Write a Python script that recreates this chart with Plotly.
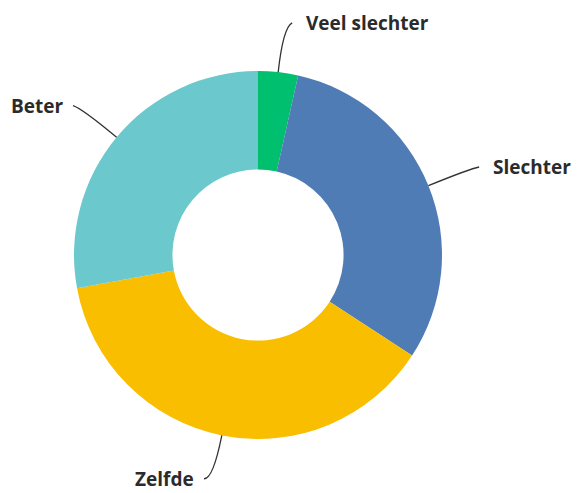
import math
import plotly.graph_objects as go

# Antwoorden (percentages)
labels = ['Veel slechter', 'Slechter', 'Zelfde', 'Beter']
waarden = [3.5, 30.7, 37.9, 27.9]
kleuren = ['#00BF6F', '#507CB6', '#F9BE00', '#6BC8CD']

# de pagina zet de grafiek 8px naar rechts/onder (body-marge),
# daarom iets kleiner zodat alles in het venster past
W, H = 571, 485
cx, cy, r = 250, 247, 184   # middelpunt en straal van de ring (pixels)
uitloop = 45                # lengte van de lijn buiten de ring
haak = 9                    # horizontaal stukje aan het eind
fs = 19                     # lettergrootte labels

fig = go.Figure(go.Pie(
    labels=labels,
    values=waarden,
    hole=0.465,
    sort=False,
    direction='clockwise',
    rotation=0,
    marker=dict(colors=kleuren, line=dict(width=0)),
    textinfo='none',
    hoverinfo='label+percent',
    domain=dict(x=[(cx - r) / W, (cx + r) / W],
                y=[1 - (cy + r) / H, 1 - (cy - r) / H]),
    showlegend=False,
))


def px(x, y):
    return x / W, 1 - y / H


# Labels met gebogen lijntjes, berekend uit de hoek van elk segment
totaal = sum(waarden)
start = 0
for naam, v in zip(labels, waarden):
    mid = math.radians((start + v / 2) / totaal * 360)
    start += v
    ux, uy = math.sin(mid), -math.cos(mid)
    p0 = (cx + r * ux, cy + r * uy)
    elleboog = (cx + (r + uitloop) * ux, cy + (r + uitloop) * uy)
    kant = 1 if ux >= 0 else -1
    eind = (elleboog[0] + kant * haak, min(elleboog[1] + 4.5 * uy, H - 0.75 * fs))
    a, b, c = px(*p0), px(*elleboog), px(*eind)
    fig.add_shape(type='path', xref='paper', yref='paper',
                  path=f'M {a[0]},{a[1]} Q {b[0]},{b[1]} {c[0]},{c[1]}',
                  line=dict(color='#333333', width=1.3))
    gat = 12 if kant > 0 else 8
    tx, ty = px(eind[0] + kant * gat, eind[1])
    fig.add_annotation(x=tx, y=ty, xref='paper', yref='paper', text=f'<b>{naam}</b>',
                       showarrow=False, xanchor='left' if kant > 0 else 'right', yanchor='middle',
                       font=dict(family='Open Sans', size=fs, color='#2b2b2b'))

fig.update_layout(
    width=W, height=H,
    margin=dict(l=0, r=0, t=0, b=0),
    paper_bgcolor='white',
    plot_bgcolor='white',
)

fig.write_html('out.html')
